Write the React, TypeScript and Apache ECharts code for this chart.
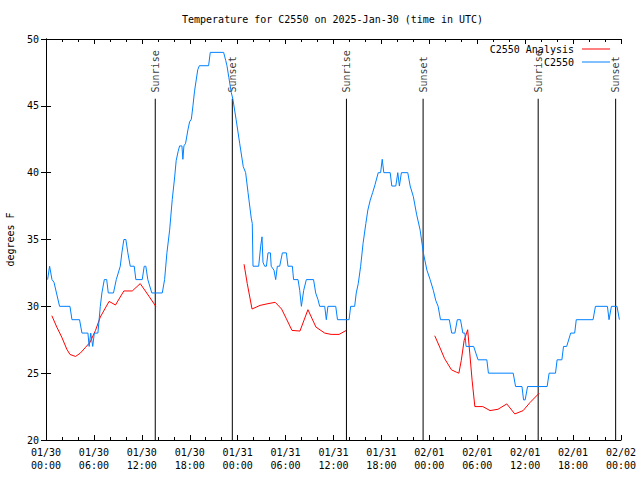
import React, { useEffect, useRef } from "react";
import * as echarts from "echarts";

// Hours since 2025-01-30 00:00 UTC
const tickDates = ["01/30", "01/30", "01/30", "01/30", "01/31", "01/31", "01/31", "01/31", "02/01", "02/01", "02/01", "02/01", "02/02"];
const tickTimes = ["00:00", "06:00", "12:00", "18:00", "00:00", "06:00", "12:00", "18:00", "00:00", "06:00", "12:00", "18:00", "00:00"];

const obsHours = [
  0.2, 0.45, 0.75, 1.0, 1.7, 3.0, 3.25, 4.2, 4.5, 5.25, 5.4, 5.6, 5.85, 6.05, 6.5, 6.8, 7.0, 7.3, 7.6, 7.8,
  8.45, 8.8, 9.3, 9.5, 9.75, 10.0, 10.25, 10.55, 11.05, 11.25, 12.05, 12.3, 12.5, 12.75, 13.25,
  14.56, 14.85, 15.14, 15.48, 15.81, 16.1, 16.3, 16.55, 16.73, 17.02, 17.14, 17.27, 17.48, 17.77, 17.98,
  18.2, 18.4, 18.6, 19.0, 19.2, 20.36, 20.57, 22.24, 22.5, 22.66, 22.9, 23.2, 23.4, 23.8, 24.25, 24.7,
  25.0, 25.3, 25.7, 25.83, 25.92, 26.63, 26.88, 27.05, 27.17, 27.38, 27.6, 27.8, 28.1, 28.2, 28.55, 28.76,
  28.97, 29.26, 29.6, 30.1, 30.3, 30.85, 31.0, 31.56, 31.77, 31.98, 32.27, 32.6, 33.5, 33.77, 34.06, 34.27,
  34.9, 35.1, 35.3, 36.28, 36.5, 37.95, 38.15, 38.65, 38.85, 39.1, 39.4, 39.7, 40.05, 40.3, 40.6, 40.9,
  41.2, 41.6, 41.9, 42.1, 42.3, 43.1, 43.3, 43.8, 44.05, 44.25, 44.5, 45.3, 45.6, 46.0, 46.4, 46.85, 47.25,
  47.7, 48.1, 48.5, 48.8, 49.1, 49.4, 50.5, 50.8, 51.2, 51.5, 51.9, 52.2, 52.45, 52.6, 53.55, 54.1, 55.2,
  55.4, 58.5, 58.8, 59.6, 59.8, 60.0, 60.3, 62.75, 63.0, 63.8, 64.0, 64.6, 64.8, 65.2, 65.7, 66.2, 66.4,
  68.5, 68.8, 70.3, 70.5, 70.8, 71.5, 71.8,
];
const obsTemps = [
  32, 33, 32, 31.8, 30, 30, 29, 29, 28, 28, 27, 28, 27, 28, 28, 30, 31, 32, 32, 31,
  31, 32, 33, 34, 35, 35, 34, 33, 33, 32, 32, 33, 33, 32, 31,
  31, 32, 34, 35.7, 38, 39.6, 40.9, 41.6, 42, 42, 41, 42, 42.2, 43.2, 43.8,
  44, 45, 46.1, 47.7, 48, 48, 49, 49, 48.4, 48, 47.1, 46, 45.5, 44, 42.2, 40.45,
  40, 38.5, 36.6, 36.2, 33, 33, 34.5, 35.2, 33.3, 33, 33, 34, 34, 33, 32.7, 32,
  33, 33, 34, 34, 33, 33, 32, 32, 31.2, 30, 31.2, 32, 32, 31, 30.5, 30,
  30, 29, 30, 30, 29, 29, 30, 30, 31, 31.7, 33, 34.7, 36.2, 37.2, 37.95, 38.5,
  39.1, 40, 40, 41, 40, 40, 39, 39, 40, 39, 40, 40, 39, 38.2, 36.9, 35.7, 34,
  32.7, 32, 31.2, 30.45, 30, 29, 29, 28, 28, 29, 29, 28, 28, 27, 27, 26, 26,
  25, 25, 24, 24, 23, 23, 24, 24, 25, 25, 26, 26, 27, 27, 28, 28, 29,
  29, 30, 30, 29, 30, 30, 29,
];

const anaHours1 = [0.73, 1.35, 1.97, 2.6, 3.0, 3.7, 4.3, 4.9, 5.5, 6.2, 6.8, 7.9, 8.7, 9.75, 10.8, 11.8, 12.9, 13.75];
const anaTemps1 = [29.3, 28.45, 27.7, 26.8, 26.4, 26.25, 26.5, 26.9, 27.3, 28.2, 29.2, 30.37, 30.1, 31.15, 31.15, 31.7, 30.75, 30.0];
const anaHours2 = [24.8, 25.2, 25.8, 26.8, 27.8, 28.7, 29.5, 30.1, 30.8, 31.8, 32.8, 33.8, 34.9, 35.7, 36.7, 37.6];
const anaTemps2 = [33.15, 31.7, 29.8, 30.07, 30.2, 30.3, 29.8, 29.07, 28.2, 28.15, 29.75, 28.45, 28.0, 27.9, 27.9, 28.2];
const anaHours3 = [48.68, 49.3, 49.9, 50.77, 51.4, 51.7, 52.0, 52.36, 52.8, 53.07, 53.36, 53.7, 54.7, 55.6, 56.6, 57.7, 58.7, 59.75, 60.6, 61.75];
const anaTemps3 = [27.8, 26.95, 26.1, 25.25, 25.07, 25.0, 25.95, 27.45, 28.25, 26.45, 24.45, 22.5, 22.5, 22.2, 22.3, 22.7, 21.95, 22.2, 22.8, 23.5];

const sunHours = [13.68, 23.33, 37.62, 47.22, 61.63, 71.33];
const sunLabels = ["Sunrise", "Sunset", "Sunrise", "Sunset", "Sunrise", "Sunset"];
const sunLineTop = 45.53;
const sunLabelAt = 46.0;

const FONT = "DejaVu Sans Mono";

export default function App() {
  const ref = useRef<HTMLDivElement>(null);
  useEffect(() => {
    if (!ref.current) return;
    const chart = echarts.init(ref.current, undefined, { renderer: "svg" });

    const pair = (hs: number[], ts: number[]) => hs.map((h, i) => [h, ts[i]]);
    const anaData: any[] = [
      ...pair(anaHours1, anaTemps1),
      [19, null],
      ...pair(anaHours2, anaTemps2),
      [43, null],
      ...pair(anaHours3, anaTemps3),
    ];
    const obsData = pair(obsHours, obsTemps);
    const sunLineData: any[] = [];
    sunHours.forEach((h) => {
      sunLineData.push([h, 20], [h, sunLineTop], [h, null]);
    });
    const sunLabelData = sunHours.map((h) => [h, sunLabelAt]);

    const txt = { fontFamily: FONT, fontSize: 10, color: "#000" };
    const axisLine = { show: true, lineStyle: { color: "#000", width: 1 } };

    const xBase = {
      type: "value" as const,
      min: 0,
      max: 72,
      interval: 6,
      axisLine,
      axisTick: { show: true, inside: true, length: 5, lineStyle: { color: "#000" } },
      minorTick: { show: true, splitNumber: 3, length: 3, lineStyle: { color: "#000" } },
      splitLine: { show: false },
      minorSplitLine: { show: false },
    };
    const yBase = {
      type: "value" as const,
      min: 20,
      max: 50,
      interval: 5,
      axisLine,
      axisTick: { show: true, inside: true, length: 5, lineStyle: { color: "#000" } },
      splitLine: { show: false },
    };

    const legendBase = {
      orient: "horizontal" as const,
      right: 30,
      align: "right" as const,
      padding: 0,
      icon: "rect",
      itemWidth: 28,
      itemHeight: 1,
      selectedMode: false,
      textStyle: { ...txt, padding: [0, 3, 0, 0] },
    };

    chart.setOption({
      animation: false,
      backgroundColor: "#fff",
      title: {
        text: "Temperature for C2550 on 2025-Jan-30 (time in UTC)",
        left: 182,
        top: 14,
        padding: 0,
        textStyle: { ...txt, fontWeight: "normal" },
      },
      legend: [
        { ...legendBase, top: 44, data: ["C2550 Analysis"] },
        { ...legendBase, top: 57, data: ["C2550"] },
      ],
      grid: { left: 46, right: 19, top: 39, bottom: 40, containLabel: false, outerBoundsMode: "none" },
      xAxis: [
        {
          ...xBase,
          position: "bottom",
          axisLabel: {
            ...txt,
            margin: 6,
            lineHeight: 13,
            showMinLabel: true,
            showMaxLabel: true,
            formatter: (v: number) => {
              const i = Math.round(v / 6);
              return tickDates[i] + "\n" + tickTimes[i];
            },
          },
        },
        { ...xBase, position: "top", axisLabel: { show: false } },
      ],
      yAxis: [
        {
          ...yBase,
          position: "left",
          name: "degrees F",
          nameLocation: "middle",
          nameGap: 31,
          nameTextStyle: { ...txt },
          axisLabel: { ...txt, margin: 7 },
        },
        { ...yBase, position: "right", axisLabel: { show: false } },
      ],
      series: [
        {
          name: "sun",
          type: "line",
          data: sunLineData,
          symbol: "none",
          silent: true,
          connectNulls: false,
          lineStyle: { color: "#000", width: 1 },
          itemStyle: { color: "#000" },
          z: 1,
        },
        {
          name: "sunlabels",
          type: "scatter",
          data: sunLabelData,
          symbolSize: 1,
          silent: true,
          itemStyle: { color: "rgba(0,0,0,0)" },
          label: {
            show: true,
            position: "inside",
            align: "left",
            verticalAlign: "middle",
            rotate: 90,
            ...txt,
            formatter: (p: any) => sunLabels[p.dataIndex],
          },
          z: 1,
        },
        {
          name: "C2550 Analysis",
          type: "line",
          data: anaData,
          symbol: "none",
          connectNulls: false,
          lineStyle: { color: "#ff0000", width: 1 },
          itemStyle: { color: "#ff0000" },
          z: 2,
        },
        {
          name: "C2550",
          type: "line",
          data: obsData,
          symbol: "none",
          lineStyle: { color: "#0080ff", width: 1 },
          itemStyle: { color: "#0080ff" },
          z: 3,
        },
      ],
    });
    return () => chart.dispose();
  }, []);
  return (
    <div
      ref={ref}
      style={{ position: "absolute", left: 0, top: 0, width: 640, height: 480, background: "#fff" }}
    />
  );
}
